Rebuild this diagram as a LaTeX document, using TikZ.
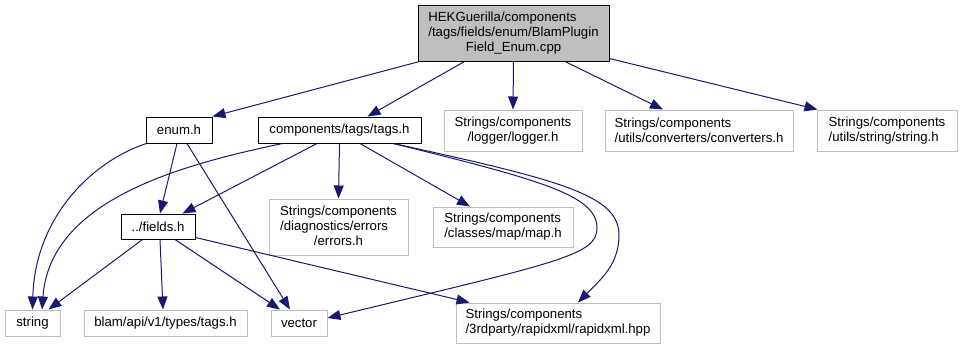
\documentclass[tikz,border=0pt]{standalone}
\usepackage{fontspec}
\setmainfont{Liberation Sans}
\usetikzlibrary{arrows.meta,calc}
\definecolor{edgeblue}{HTML}{191970}
\definecolor{extgray}{HTML}{BFBFBF}
\newcommand{\dfont}{\fontsize{13.2}{15}\selectfont}
\tikzset{
  box/.style={rectangle, line width=1pt, inner sep=0pt, font=\dfont, align=center, text=black},
  docbox/.style={box, draw=black, fill=white},
  extbox/.style={box, draw=extgray, fill=white},
  extleft/.style={extbox, align=left},
  mainbox/.style={box, draw=black, fill=extgray},
  dep/.style={draw=edgeblue, line width=1pt, -{Triangle[length=13pt,width=10pt]}},
}
\begin{document}
\begin{tikzpicture}[x=1pt, y=-1pt]
\useasboundingbox[fill=white] (0,0) rectangle (962,349);

% nodes
\node[mainbox, minimum width=191pt, minimum height=56pt] (main) at (513.5,33)
  {\begin{tabular}{@{}l@{}}HEKGuerilla/components\\/tags/fields/enum/BlamPlugin\\\multicolumn{1}{@{}c@{}}{Field\_Enum.cpp}\end{tabular}};

\node[docbox, minimum width=66pt, minimum height=26pt] (enum) at (179,130) {enum.h};
\node[docbox, minimum width=163pt, minimum height=26pt] (tags) at (339.5,130) {components/tags/tags.h};
\node[extbox, minimum width=138pt, minimum height=41pt] (logger) at (513,130.5) {Strings/components\\/logger/logger.h};
\node[extleft, minimum width=188pt, minimum height=41pt] (conv) at (699,130.5) {Strings/components\\/utils/converters/converters.h};
\node[extleft, minimum width=140pt, minimum height=41pt] (strh) at (887,130.5) {Strings/components\\/utils/string/string.h};

\node[docbox, minimum width=74pt, minimum height=25pt] (fields) at (158,226.5) {../fields.h};
\node[extbox, minimum width=139pt, minimum height=56pt] (errors) at (338.5,227)
  {\begin{tabular}{@{}l@{}}Strings/components\\/diagnostics/errors\\\multicolumn{1}{@{}c@{}}{/errors.h}\end{tabular}};
\node[extleft, minimum width=140pt, minimum height=40pt] (map) at (503,227) {Strings/components\\/classes/map/map.h};

\node[extbox, minimum width=55pt, minimum height=26pt] (string) at (32.5,323) {string};
\node[extbox, minimum width=163pt, minimum height=26pt] (blam) at (165.5,323) {blam/api/v1/types/tags.h};
\node[extbox, minimum width=56pt, minimum height=26pt] (vector) at (299,323) {vector};
\node[extleft, minimum width=204pt, minimum height=40pt] (rapid) at (558,323) {Strings/components\\/3rdparty/rapidxml/rapidxml.hpp};

% edges from main
\draw[dep] ($(main.south west)+(2,0)$) -- (enum.north east);
\draw[dep] ($(main.south west)+(47,0)$) -- ($(tags.north)+(28,0)$);
\draw[dep] (main.south) -- (logger.north);
\draw[dep] ($(main.south)+(51.5,0)$) -- ($(conv.north)+(-36,0)$);
\draw[dep] ($(main.south east)+(0,-3)$) -- ($(strh.north west)+(1,0)$);

% edges from enum.h
\draw[dep] ($(enum.south west)+(1,0)$) .. controls (95,160) and (35,215) .. (string.north);
\draw[dep] ($(enum.south)+(-2,0)$) -- ($(fields.north)+(2,0)$);
\draw[dep] ($(enum.south)+(8,0)$) -- ($(vector.north)+(-9,0)$);

% edges from tags.h
\draw[dep] ($(tags.south west)+(25,0)$) .. controls (180,165) and (50,200) .. ($(string.north)+(9.5,0)$);
\draw[dep] ($(tags.south)+(-22.5,0)$) -- ($(fields.north east)+(-13,0)$);
\draw[dep] (tags.south) -- (errors.north);
\draw[dep] ($(tags.south)+(20.5,0)$) -- ($(map.north)+(-33,0)$);
\draw[dep] ($(tags.south east)+(-28,0)$) .. controls (540,180) and (597,195) .. (597,228)
  .. controls (597,255) and (560,262) .. ($(vector.east)+(0,-5)$);
\draw[dep] ($(tags.south east)+(-28,0)$) .. controls (560,180) and (619,195) .. (619,235)
  .. controls (619,265) and (600,280) .. ($(rapid.north)+(20,0)$);

% edges from fields.h
\draw[dep] ($(fields.south west)+(22,0)$) -- ($(string.north east)+(-12,0)$);
\draw[dep] ($(fields.south)+(2,0)$) -- ($(blam.north)+(-2.5,0)$);
\draw[dep] ($(fields.south)+(17,0)$) -- ($(vector.north)+(-19,0)$);
\draw[dep] ($(fields.south east)+(0,-2)$) -- ($(rapid.north west)+(14,0)$);
\end{tikzpicture}
\end{document}
